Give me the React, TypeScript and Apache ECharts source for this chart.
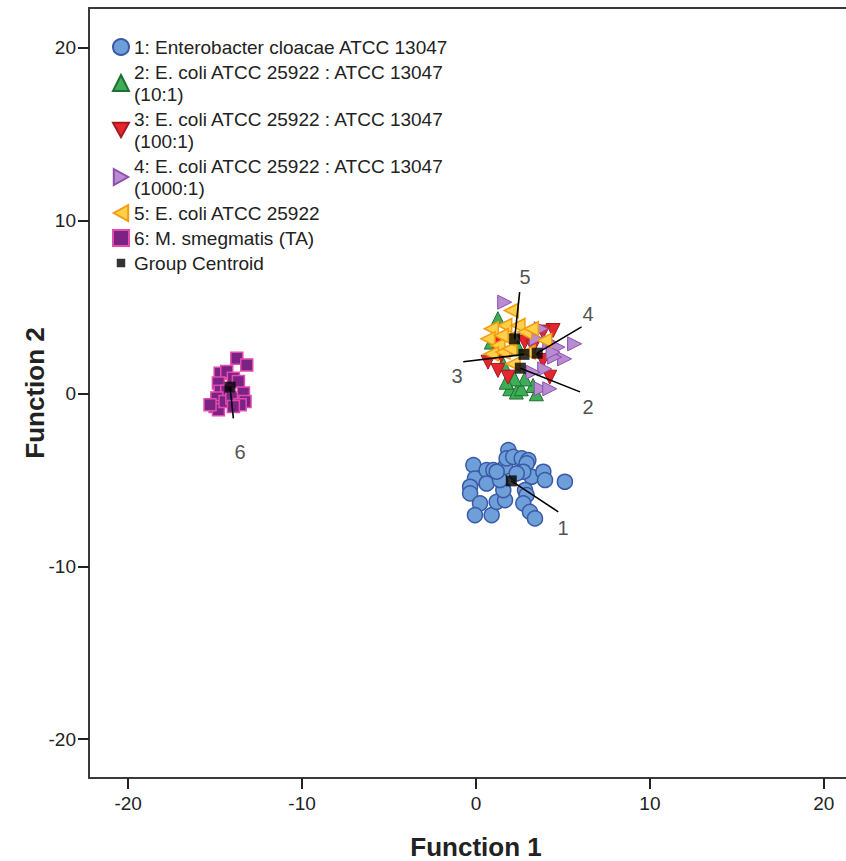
import React, { useEffect, useRef } from "react";
import * as echarts from "echarts";

const xTicks = [-20, -10, 0, 10, 20];
const yTicks = [-20, -10, 0, 10, 20];

const seriesNames = [
  "1: Enterobacter cloacae ATCC 13047",
  "2: E. coli ATCC 25922 : ATCC 13047\n(10:1)",
  "3: E. coli ATCC 25922 : ATCC 13047\n(100:1)",
  "4: E. coli ATCC 25922 : ATCC 13047\n(1000:1)",
  "5: E. coli ATCC 25922",
  "6: M. smegmatis (TA)",
  "Group Centroid",
];

const enterobacter: number[][] = [
  [-0.15, -4.15], [-0.06, -4.92], [-0.34, -5.4], [-0.34, -5.78], [0.61, -4.44],
  [1.0, -4.44], [0.61, -5.21], [0.23, -6.36], [-0.06, -7.04], [0.9, -7.04],
  [1.19, -6.27], [1.67, -6.17], [1.57, -5.59], [1.38, -5.01], [1.67, -4.25],
  [1.86, -3.28], [1.76, -3.76], [2.14, -3.67], [2.63, -3.76], [3.01, -3.86],
  [2.91, -4.05], [3.2, -4.82], [2.72, -4.53], [2.82, -5.59], [2.91, -5.88],
  [2.72, -6.36], [3.1, -6.85], [3.39, -7.23], [3.87, -4.53], [3.97, -5.01],
  [5.11, -5.11], [1.19, -4.53], [2.34, -4.63],
];

const ratio10: number[][] = [
  [1.26, 4.32], [0.88, 2.97], [1.94, 0.27], [2.32, 0.08], [2.6, 0.27],
  [3.28, 0.46], [3.47, -0.02], [2.8, 0.84], [2.22, 0.84], [1.74, 0.65],
  [2.41, 2.68], [1.55, 1.71],
];

const ratio100: number[][] = [
  [1.26, 1.33], [1.84, 0.94], [1.07, 2.87], [3.85, 1.91], [4.43, 3.64],
  [4.24, 0.94], [3.85, 3.55], [0.69, 1.81], [1.45, 2.2], [2.8, 2.97],
  [3.28, 2.68],
];

const ratio1000: number[][] = [
  [1.65, 5.28], [3.75, 3.74], [4.24, 2.97], [4.71, 2.68], [5.67, 2.87],
  [5.09, 2.0], [4.52, 2.1], [3.95, 1.42], [3.75, 0.27], [4.24, 0.27],
  [3.28, 1.23], [3.47, 3.16], [4.43, 2.39],
];

const ecoli: number[][] = [
  [2.03, 4.8], [1.65, 3.93], [2.41, 3.93], [0.88, 3.74], [0.69, 3.16],
  [1.26, 2.78], [0.88, 2.29], [1.55, 2.39], [1.94, 2.58], [2.8, 3.55],
  [3.18, 3.74], [2.99, 2.39], [1.84, 3.16], [2.13, 1.71], [3.95, 3.07],
  [1.45, 3.35],
];

const smegmatis: number[][] = [
  [-13.75, 2.04], [-13.18, 1.65], [-14.71, 1.17], [-14.33, 1.27], [-13.95, 0.88],
  [-13.66, 0.69], [-14.81, 0.6], [-14.71, 0.12], [-14.33, 0.12], [-14.9, -0.27],
  [-15.0, -0.75], [-14.81, -0.95], [-14.43, -0.46], [-14.04, -0.27], [-13.37, 0.02],
  [-13.28, -0.46], [-13.56, -0.66], [-13.95, -0.75], [-15.29, -0.66],
];

const centroidLabels = ["1", "2", "3", "4", "5", "6"];
const centroids: number[][] = [
  [2.03, -5.06], [2.55, 1.46], [2.76, 2.26], [3.52, 2.33], [2.22, 3.16], [-14.14, 0.36],
];
const leaderEnds: number[][] = [
  [4.73, -6.85], [5.98, 0.09], [-0.73, 1.83], [6.07, 3.85], [2.51, 5.86], [-13.95, -1.44],
];
const labelPositions: number[][] = [
  [5.0, -7.8], [6.44, -0.79], [-1.09, 1.0], [6.44, 4.59], [2.82, 6.73], [-13.56, -3.39],
];

const FONT = "'Liberation Sans', Arial, sans-serif";

export default function App() {
  const ref = useRef<HTMLDivElement>(null);

  useEffect(() => {
    if (!ref.current) return;
    const chart = echarts.init(ref.current, null, { renderer: "svg" });

    const mk = (
      name: string,
      data: number[][],
      symbol: string,
      size: number,
      fill: string,
      border: string,
      bw: number
    ) => ({
      type: "scatter",
      name,
      data,
      symbol,
      symbolSize: size,
      itemStyle: { color: fill, borderColor: border, borderWidth: bw, opacity: 1 },
      silent: true,
    });

    const option: any = {
      animation: false,
      textStyle: { fontFamily: FONT },
      grid: {
        left: 89,
        top: 8,
        width: 774,
        height: 770,
        show: false,
        containLabel: false,
        outerBoundsMode: "none",
      },
      legend: {
        orient: "vertical",
        left: 107,
        top: 31,
        itemWidth: 16,
        itemHeight: 16,
        itemGap: 3,
        selectedMode: false,
        textStyle: { fontSize: 19, lineHeight: 22, color: "#222", fontFamily: FONT },
        data: [
          { name: seriesNames[0] },
          { name: seriesNames[1] },
          { name: seriesNames[2] },
          { name: seriesNames[3] },
          { name: seriesNames[4] },
          { name: seriesNames[5] },
          {
            name: seriesNames[6],
            icon: "path://M0,0 L0.01,0 L0,0.01 Z M4,4 H13 V13 H4 Z M17,17 L16.99,17 L17,16.99 Z",
          },
        ],
      },
      xAxis: [
        {
          type: "value",
          min: -22.25,
          max: 22.25,
          name: "Function 1",
          nameLocation: "middle",
          nameGap: 56,
          nameMoveOverlap: false,
          nameTextStyle: { fontSize: 26, fontWeight: "bold", color: "#222", fontFamily: FONT },
          axisLine: { show: true, onZero: false, lineStyle: { color: "#3a3a3a", width: 2 } },
          axisTick: { show: true, customValues: xTicks, length: 11, lineStyle: { color: "#222", width: 2 } },
          axisLabel: { customValues: xTicks, fontSize: 19, color: "#222", margin: 16, fontFamily: FONT },
          splitLine: { show: false },
        },
        {
          type: "value",
          position: "top",
          min: -22.25,
          max: 22.25,
          axisLine: { show: true, onZero: false, lineStyle: { color: "#3a3a3a", width: 2 } },
          axisTick: { show: false },
          axisLabel: { show: false },
          splitLine: { show: false },
        },
      ],
      yAxis: {
        type: "value",
        min: -22.25,
        max: 22.3,
        name: "Function 2",
        nameLocation: "middle",
        nameGap: 41,
        nameMoveOverlap: false,
        nameTextStyle: { fontSize: 26, fontWeight: "bold", color: "#222", fontFamily: FONT },
        axisLine: { show: true, onZero: false, lineStyle: { color: "#3a3a3a", width: 2 } },
        axisTick: { show: true, customValues: yTicks, length: 11, lineStyle: { color: "#222", width: 2 } },
        axisLabel: { customValues: yTicks, fontSize: 19, color: "#222", margin: 13, fontFamily: FONT },
        splitLine: { show: false },
      },
      series: [
        mk(seriesNames[0], enterobacter, "circle", 15, "#6f9fd8", "#3a5aa8", 1.5),
        mk(seriesNames[1], ratio10, "triangle", 14, "#3dae55", "#1f6e33", 1),
        mk(seriesNames[2], ratio100, "path://M0,0 L10,0 L5,9 Z", 14, "#e5272d", "#a01c22", 1),
        mk(seriesNames[3], ratio1000, "path://M0,0 L9,5 L0,10 Z", 14, "#b98bd1", "#8c50ab", 1),
        mk(seriesNames[4], ecoli, "path://M9,0 L0,5 L9,10 Z", 14, "#ffd04a", "#f39c12", 1.5),
        mk(seriesNames[5], smegmatis, "rect", 12, "#7b2382", "#e24bb0", 1.5),
        {
          type: "lines",
          coordinateSystem: "cartesian2d",
          silent: true,
          polyline: false,
          lineStyle: { color: "#000", width: 1.6, opacity: 1 },
          data: centroids.map((c, i) => ({ coords: [c, leaderEnds[i]] })),
          z: 3,
        },
        {
          type: "scatter",
          name: seriesNames[6],
          data: centroids,
          symbol: "rect",
          symbolSize: 11,
          itemStyle: { color: "#000", borderWidth: 0 },
          silent: true,
          z: 4,
        },
        {
          type: "scatter",
          name: "labels",
          silent: true,
          symbol: "circle",
          symbolSize: 1,
          itemStyle: { color: "rgba(0,0,0,0)" },
          data: labelPositions.map((p, i) => ({ value: p, name: centroidLabels[i] })),
          label: {
            show: true,
            position: "inside",
            formatter: (p: any) => p.name,
            fontSize: 20,
            color: "#222",
            textBorderWidth: 0,
            fontFamily: FONT,
          },
          z: 5,
        },
      ],
    };

    chart.setOption(option);
    return () => chart.dispose();
  }, []);

  return (
    <div
      ref={ref}
      style={{ position: "absolute", left: 0, top: 0, width: 846, height: 861 }}
    />
  );
}
